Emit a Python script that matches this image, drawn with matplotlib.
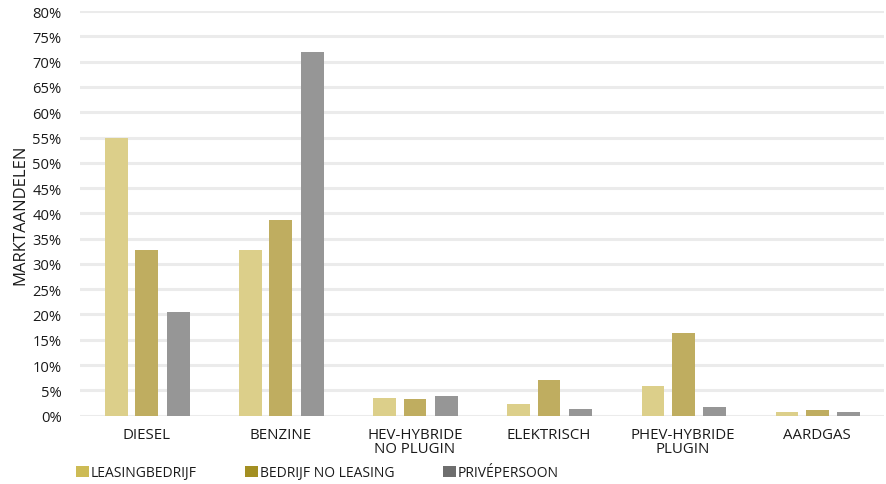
import matplotlib
matplotlib.use("Agg")
import matplotlib.pyplot as plt
import numpy as np
from matplotlib.patches import Patch
from matplotlib.ticker import FuncFormatter, MultipleLocator

plt.rcParams["font.family"] = ["Open Sans", "DejaVu Sans"]

categories = ["DIESEL", "BENZINE", "HEV-HYBRIDE\nNO PLUGIN", "ELEKTRISCH",
              "PHEV-HYBRIDE\nPLUGIN", "AARDGAS"]
series_names = ["LEASINGBEDRIJF", "BEDRIJF NO LEASING", "PRIVÉPERSOON"]
leasingbedrijf = [55.0, 32.7, 3.5, 2.3, 5.9, 0.7]
bedrijf_no_leasing = [32.7, 38.6, 3.3, 7.0, 16.3, 1.1]
privepersoon = [20.5, 71.9, 3.9, 1.3, 1.7, 0.7]

bar_colors = ["#DCCF8A", "#BFAD60", "#969696"]
legend_colors = ["#CDBB55", "#A38F22", "#6E6E6E"]
text_color = "#1a1a1a"

fig = plt.figure(figsize=(8.86, 4.85), dpi=100)
ax = fig.add_axes([0.090, 0.141, 0.908, 0.834])

x = np.arange(len(categories))
width = 0.17
offsets = [-0.225, 0.0, 0.235]
for vals, off, col in zip([leasingbedrijf, bedrijf_no_leasing, privepersoon],
                          offsets, bar_colors):
    ax.bar(x + off, vals, width=width, color=col, zorder=3)

ax.set_xlim(-0.5, len(categories) - 0.5)
ax.set_ylim(0, 80)
ax.yaxis.set_major_locator(MultipleLocator(5))
ax.yaxis.set_major_formatter(FuncFormatter(lambda v, _: f"{v:.0f}%"))
ax.grid(axis="y", color="#EBEBEB", linewidth=2.2, zorder=0)
ax.set_axisbelow(True)
for s in ax.spines.values():
    s.set_visible(False)

ax.set_xticks(x)
ax.set_xticklabels(categories, fontsize=10.8, color=text_color, linespacing=0.95)
ax.tick_params(axis="x", length=0, pad=8)
ax.tick_params(axis="y", length=0, pad=13, labelsize=10.6, labelcolor=text_color)
ax.set_ylabel("MARKTAANDELEN", fontsize=12, color=text_color, labelpad=3)

# legend uses the full-strength swatch colours
handles = [Patch(facecolor=c, edgecolor="none") for c in legend_colors]
fig.legend(handles, series_names, loc="center left", bbox_to_anchor=(0.072, 0.023),
           ncol=3, frameon=False, fontsize=10, handlelength=0.9, handleheight=0.9,
           handletextpad=0.15, columnspacing=3.5, labelcolor=text_color)

fig.savefig("out.png", dpi=100)
